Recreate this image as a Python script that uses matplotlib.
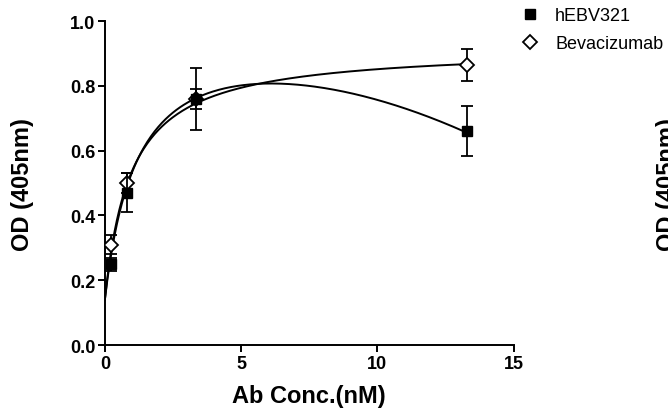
import numpy as np
import matplotlib
matplotlib.use('Agg')
import matplotlib.pyplot as plt

plt.rcParams['font.family'] = ['Liberation Sans', 'DejaVu Sans']

# data
conc = [0.21, 0.83, 3.33, 13.3]
hebv = [0.25, 0.47, 0.76, 0.66]
hebv_err = [0.02, 0.06, 0.095, 0.077]
bev = [0.31, 0.50, 0.76, 0.865]
bev_err = [0.03, 0.03, 0.03, 0.05]

# curve fit parameters (estimated)
# hEBV321: binding with decline  y = y0 + B*x/(K + x) - c*x^2
hebv_fit = dict(y0=0.14, B=0.87, K=1.2, c=0.0016)
# Bevacizumab: one site binding  y = y0 + B*x/(K + x)
bev_fit = dict(y0=0.14, B=0.78, K=0.96)

xs = np.linspace(0, max(conc), 300)
hebv_curve = hebv_fit['y0'] + hebv_fit['B'] * xs / (hebv_fit['K'] + xs) - hebv_fit['c'] * xs ** 2
bev_curve = bev_fit['y0'] + bev_fit['B'] * xs / (bev_fit['K'] + xs)

fig = plt.figure(figsize=(6.68, 4.10), dpi=100)
ax = fig.add_axes([0.157, 0.156, 0.612, 0.79])

ax.plot(xs, bev_curve, color='black', lw=1.4, zorder=2)
ax.plot(xs, hebv_curve, color='black', lw=1.4, zorder=2)

ax.errorbar(conc, bev, yerr=bev_err, fmt='D', color='black', mfc='white', mec='black',
            ms=7, mew=1.3, capsize=4, elinewidth=1.3, capthick=1.3, zorder=3, label='Bevacizumab')
ax.errorbar(conc, hebv, yerr=hebv_err, fmt='s', color='black', ms=6.5,
            capsize=4, elinewidth=1.3, capthick=1.3, zorder=4, label='hEBV321')

ax.set_xlim(0, 15)
ax.set_ylim(0, 1.0)
ax.set_xticks([0, 5, 10, 15])
ax.set_yticks([0.0, 0.2, 0.4, 0.6, 0.8, 1.0])
ax.set_yticklabels(['0.0', '0.2', '0.4', '0.6', '0.8', '1.0'])
for s in ['top', 'right']:
    ax.spines[s].set_visible(False)
for s in ['left', 'bottom']:
    ax.spines[s].set_linewidth(1.4)
ax.tick_params(direction='out', length=5, width=1.4, labelsize=13, pad=2)
for lab in ax.get_xticklabels() + ax.get_yticklabels():
    lab.set_fontweight('bold')

ax.set_xlabel('Ab Conc.(nM)', fontsize=17, fontweight='bold', labelpad=9)
ax.set_ylabel('OD (405nm)', fontsize=17, fontweight='bold', labelpad=26)

h, l = ax.get_legend_handles_labels()
h = [hh[0] for hh in h]
leg = ax.legend(h[::-1], l[::-1], loc='upper left', bbox_to_anchor=(1.0, 1.065),
                frameon=False, fontsize=13, handlelength=1.0, handletextpad=0.9,
                labelspacing=0.6, borderaxespad=0)

# cut-off axis label of the neighbouring panel
fig.text(0.982, 0.55, 'OD (405nm)', rotation=90, fontsize=17, fontweight='bold',
         ha='left', va='center')

fig.savefig('out.png', dpi=100)
